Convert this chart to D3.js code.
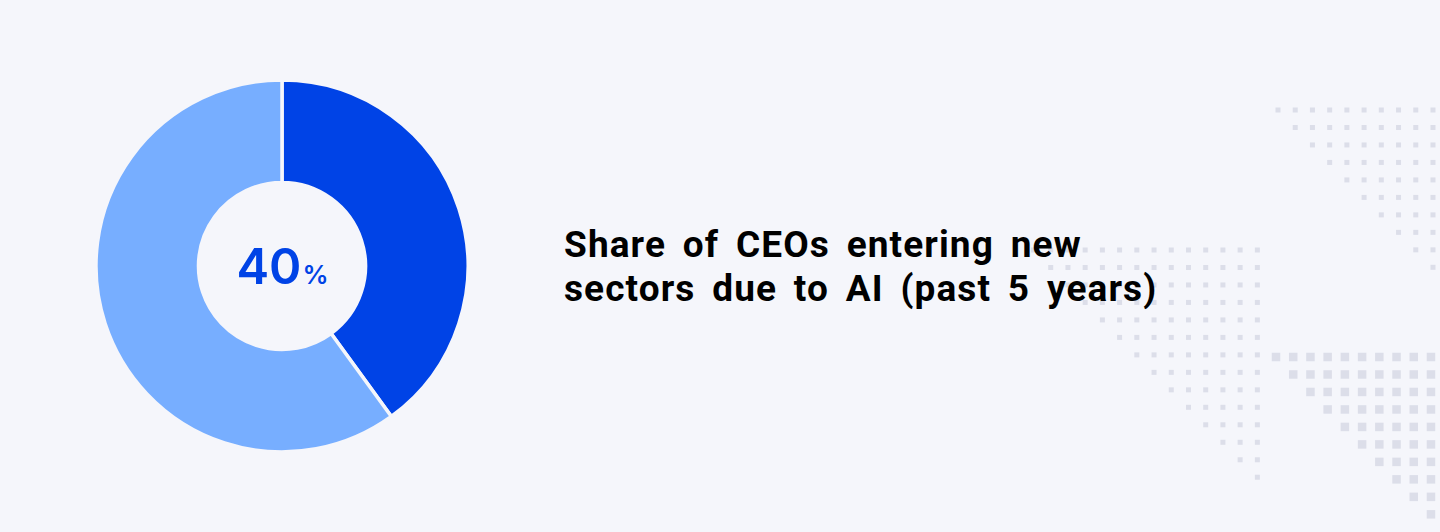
<!DOCTYPE html>
<html>
<head>
<meta charset="utf-8">
<script src="https://cdn.jsdelivr.net/npm/d3@7"></script>
<style>
  html, body { margin: 0; padding: 0; background: #f5f6fb; }
  svg { display: block; }
  .title { font-family: Roboto, sans-serif; font-weight: 700; font-size: 37px; fill: #000; letter-spacing: 1.1px; word-spacing: 6.5px; }
  .value { font-family: Inter, sans-serif; font-weight: 600; fill: #0043e6; }
</style>
</head>
<body>
<svg id="chart"></svg>
<script>
const categories = ['Entered new sectors', 'Did not']
const shares = [40, 60]
const sliceColors = ['#0043e6', '#77aeff']
const titleLines = ['Share of CEOs entering new', 'sectors due to AI (past 5 years)']
const valueLabel = '40'
const valueUnit = '%'

// background dot triangles: grid origin, rows, first row offset and square size
const dotGroups = [
  { x0: 1278, y0: 110, rows: 10, cols: 10, size: 5 },
  { x0: 1033.5, y0: 250, rows: 14, cols: 14, size: 5 },
  { x0: 1276, y0: 357, rows: 10, cols: 10, size: 8.5 }
]

const width = 1440
const height = 532
const svg = d3.select('#chart').attr('width', width).attr('height', height)

const stepX = 17.22
const stepY = 17.48

dotGroups.forEach(g => {
  const x = d3.scaleLinear().domain([0, 1]).range([g.x0, g.x0 + stepX])
  const y = d3.scaleLinear().domain([0, 1]).range([g.y0, g.y0 + stepY])
  const cells = d3.range(g.rows).flatMap(r => d3.range(r, g.cols).map(c => ({ r, c })))
  svg.append('g')
    .selectAll('rect')
    .data(cells)
    .join('rect')
    .attr('x', d => x(d.c) - g.size / 2)
    .attr('y', d => y(d.r) - g.size / 2)
    .attr('width', g.size)
    .attr('height', g.size)
    .attr('fill', '#dcdee9')
})

const pie = d3.pie().sort(null).value(d => d)
const arc = d3.arc().innerRadius(83.5).outerRadius(186)
const color = d3.scaleOrdinal().domain(categories).range(sliceColors)

const donut = svg.append('g').attr('transform', 'translate(282,266)')

donut.selectAll('path')
  .data(pie(shares))
  .join('path')
  .attr('d', arc)
  .attr('fill', (d, i) => color(categories[i]))
  .attr('stroke', '#f5f6fb')
  .attr('stroke-width', 3.5)

const value = svg.append('text')
  .attr('class', 'value')
  .attr('x', 282.5)
  .attr('y', 283.5)
  .attr('text-anchor', 'middle')

value.append('tspan').attr('font-size', 49).text(valueLabel)
value.append('tspan').attr('font-size', 26).attr('dx', 1).text(valueUnit)

svg.append('g')
  .selectAll('text')
  .data(titleLines)
  .join('text')
  .attr('class', 'title')
  .attr('x', 564)
  .attr('y', (d, i) => 257 + i * 44)
  .text(d => d)
</script>
</body>
</html>
